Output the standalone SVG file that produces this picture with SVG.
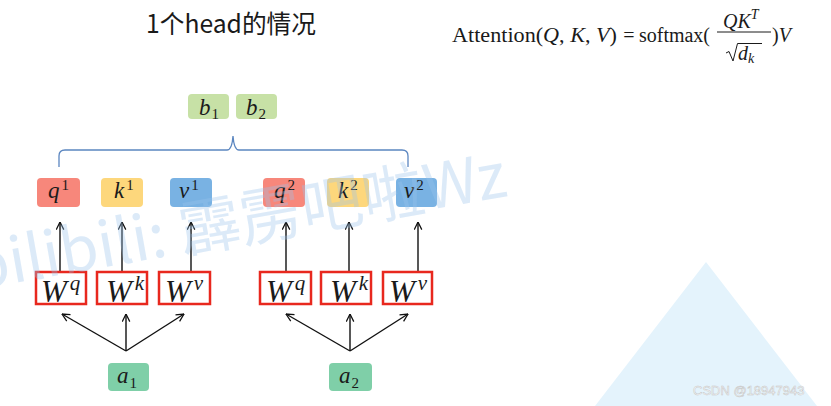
<svg xmlns="http://www.w3.org/2000/svg" width="831" height="406" viewBox="0 0 831 406">
<style>
.m{font-family:"Liberation Serif","DejaVu Serif",serif;fill:#1a1a1a}
.i{font-style:italic}
.lbl{font-family:"Liberation Serif","DejaVu Serif",serif;font-style:italic;font-size:23px;fill:#1a1a1a}
.sup{font-style:normal;font-size:15px}
.w{font-family:"Liberation Serif","DejaVu Serif",serif;font-style:italic;font-size:31px;fill:#1a1a1a}
.wsup{font-size:21px}
.q{fill:#f7877b}
.k{fill:#fdd77c}
.v{fill:#79b2e3}
.b{fill:#c7e1a6}
.a{fill:#7fcfa8}
.wb{fill:#fff;stroke:#e8281e;stroke-width:2.5}
.ar{fill:none;stroke:#111;stroke-width:1.4;marker-end:url(#ah)}
</style>
<defs>
<marker id="ah" viewBox="0 0 10 10" refX="9.5" refY="5" markerWidth="9" markerHeight="9" markerUnits="userSpaceOnUse" orient="auto">
<path d="M1,0.8 L9.5,5 L1,9.2" fill="none" stroke="#111" stroke-width="1.4"/>
</marker>
</defs>
<rect width="831" height="406" fill="#fff"/>
<polygon points="706,262 595,406 817,406" fill="#e4f3fc"/>

<g id="title">
<text x="146" y="33" font-family="'Noto Sans CJK SC','Noto Sans',sans-serif" font-size="25" fill="#1a1a1a" textLength="170" lengthAdjust="spacingAndGlyphs">1个head的情况</text>
</g>

<g id="formula">
<text class="m" x="452" y="42" font-size="20" textLength="165" lengthAdjust="spacingAndGlyphs">Attention(<tspan class="i">Q</tspan>, <tspan class="i">K</tspan>, <tspan class="i">V</tspan>)</text>
<text class="m" x="629" y="42" font-size="20" text-anchor="middle">=</text>
<text class="m" x="639" y="42" font-size="20" textLength="71" lengthAdjust="spacingAndGlyphs">softmax(</text>
<text class="m i" x="723" y="28" font-size="20">QK<tspan font-size="14" dy="-9">T</tspan></text>
<line x1="717" y1="32" x2="771" y2="32" stroke="#1a1a1a" stroke-width="1"/>
<path d="M726,53 L729,51.5 L733,61 L737.5,43.5 L762,43.5" fill="none" stroke="#1a1a1a" stroke-width="1"/>
<text class="m i" x="738" y="60" font-size="20">d<tspan font-size="14" dy="3">k</tspan></text>
<text class="m" x="772" y="42" font-size="20">)<tspan class="i">V</tspan></text>
</g>

<g id="connectors">
<path d="M59,167 L59,156 Q59,150 65,150 L227,150 Q232,150 233,136 Q234,150 239,150 L402,150 Q408,150 408,156 L408,167" fill="none" stroke="#5b86c0" stroke-width="1.3"/>
<line class="ar" x1="60" y1="271" x2="60" y2="222"/>
<line class="ar" x1="122" y1="271" x2="122" y2="222"/>
<line class="ar" x1="191" y1="271" x2="191" y2="222"/>
<line class="ar" x1="286" y1="271" x2="286" y2="222"/>
<line class="ar" x1="349" y1="271" x2="349" y2="222"/>
<line class="ar" x1="418" y1="271" x2="418" y2="222"/>
<line class="ar" x1="126" y1="351" x2="62" y2="314"/>
<line class="ar" x1="126" y1="351" x2="126" y2="314"/>
<line class="ar" x1="126" y1="351" x2="184" y2="314"/>
<line class="ar" x1="350" y1="351" x2="286" y2="314"/>
<line class="ar" x1="350" y1="351" x2="350" y2="314"/>
<line class="ar" x1="350" y1="351" x2="408" y2="314"/>
</g>

<g id="b1"><rect class="b" x="188" y="94" width="41" height="25" rx="4"/><text class="lbl" x="199" y="115">b<tspan class="sup" dy="4" dx="1">1</tspan></text></g>
<g id="b2"><rect class="b" x="236" y="94" width="41" height="25" rx="4"/><text class="lbl" x="246" y="115">b<tspan class="sup" dy="4" dx="1">2</tspan></text></g>

<g id="q1"><rect class="q" x="37" y="178" width="43" height="29" rx="4"/><text class="lbl" x="48" y="198">q<tspan class="sup" dy="-8" dx="2">1</tspan></text></g>
<g id="k1"><rect class="k" x="101" y="178" width="42" height="29" rx="4"/><text class="lbl" x="114" y="198">k<tspan class="sup" dy="-8" dx="2">1</tspan></text></g>
<g id="v1"><rect class="v" x="170" y="178" width="42" height="29" rx="4"/><text class="lbl" x="179" y="198">v<tspan class="sup" dy="-8" dx="2">1</tspan></text></g>
<g id="q2"><rect class="q" x="263" y="178" width="42" height="29" rx="4"/><text class="lbl" x="274" y="198">q<tspan class="sup" dy="-8" dx="2">2</tspan></text></g>
<g id="k2"><rect class="k" x="327" y="178" width="42" height="29" rx="4"/><text class="lbl" x="338" y="198">k<tspan class="sup" dy="-8" dx="2">2</tspan></text></g>
<g id="v2"><rect class="v" x="396" y="178" width="41" height="29" rx="4"/><text class="lbl" x="404" y="198">v<tspan class="sup" dy="-8" dx="2">2</tspan></text></g>

<g id="Wq1"><rect class="wb" x="36" y="272" width="50" height="32"/><text class="w" x="41" y="302">W<tspan class="wsup" dy="-12" dx="3">q</tspan></text></g>
<g id="Wk1"><rect class="wb" x="97" y="272" width="50" height="32"/><text class="w" x="106" y="302">W<tspan class="wsup" dy="-12" dx="3">k</tspan></text></g>
<g id="Wv1"><rect class="wb" x="159" y="272" width="51" height="32"/><text class="w" x="165" y="302">W<tspan class="wsup" dy="-12" dx="3">v</tspan></text></g>
<g id="Wq2"><rect class="wb" x="260" y="272" width="51" height="32"/><text class="w" x="266" y="302">W<tspan class="wsup" dy="-12" dx="3">q</tspan></text></g>
<g id="Wk2"><rect class="wb" x="321" y="272" width="50" height="32"/><text class="w" x="330" y="302">W<tspan class="wsup" dy="-12" dx="3">k</tspan></text></g>
<g id="Wv2"><rect class="wb" x="383" y="272" width="49" height="32"/><text class="w" x="389" y="302">W<tspan class="wsup" dy="-12" dx="3">v</tspan></text></g>

<g id="a1"><rect class="a" x="108" y="363" width="41" height="28" rx="4"/><text class="lbl" x="117" y="383">a<tspan class="sup" dy="5" dx="1">1</tspan></text></g>
<g id="a2"><rect class="a" x="329" y="363" width="43" height="28" rx="4"/><text class="lbl" x="339" y="383">a<tspan class="sup" dy="5" dx="1">2</tspan></text></g>

<g id="watermark">
<text x="-25" y="290" transform="rotate(-10 -25 290)" font-family="'Noto Sans CJK SC','Noto Sans',sans-serif" font-size="62" fill="#9cc3ea" fill-opacity="0.35">bilibili: 霹雳吧啦Wz</text>
<text x="693" y="395" font-family="'Liberation Sans',sans-serif" font-size="13" fill="#fff" stroke="#c4c4c4" stroke-width="0.5">CSDN @18947943</text>
</g>
</svg>
